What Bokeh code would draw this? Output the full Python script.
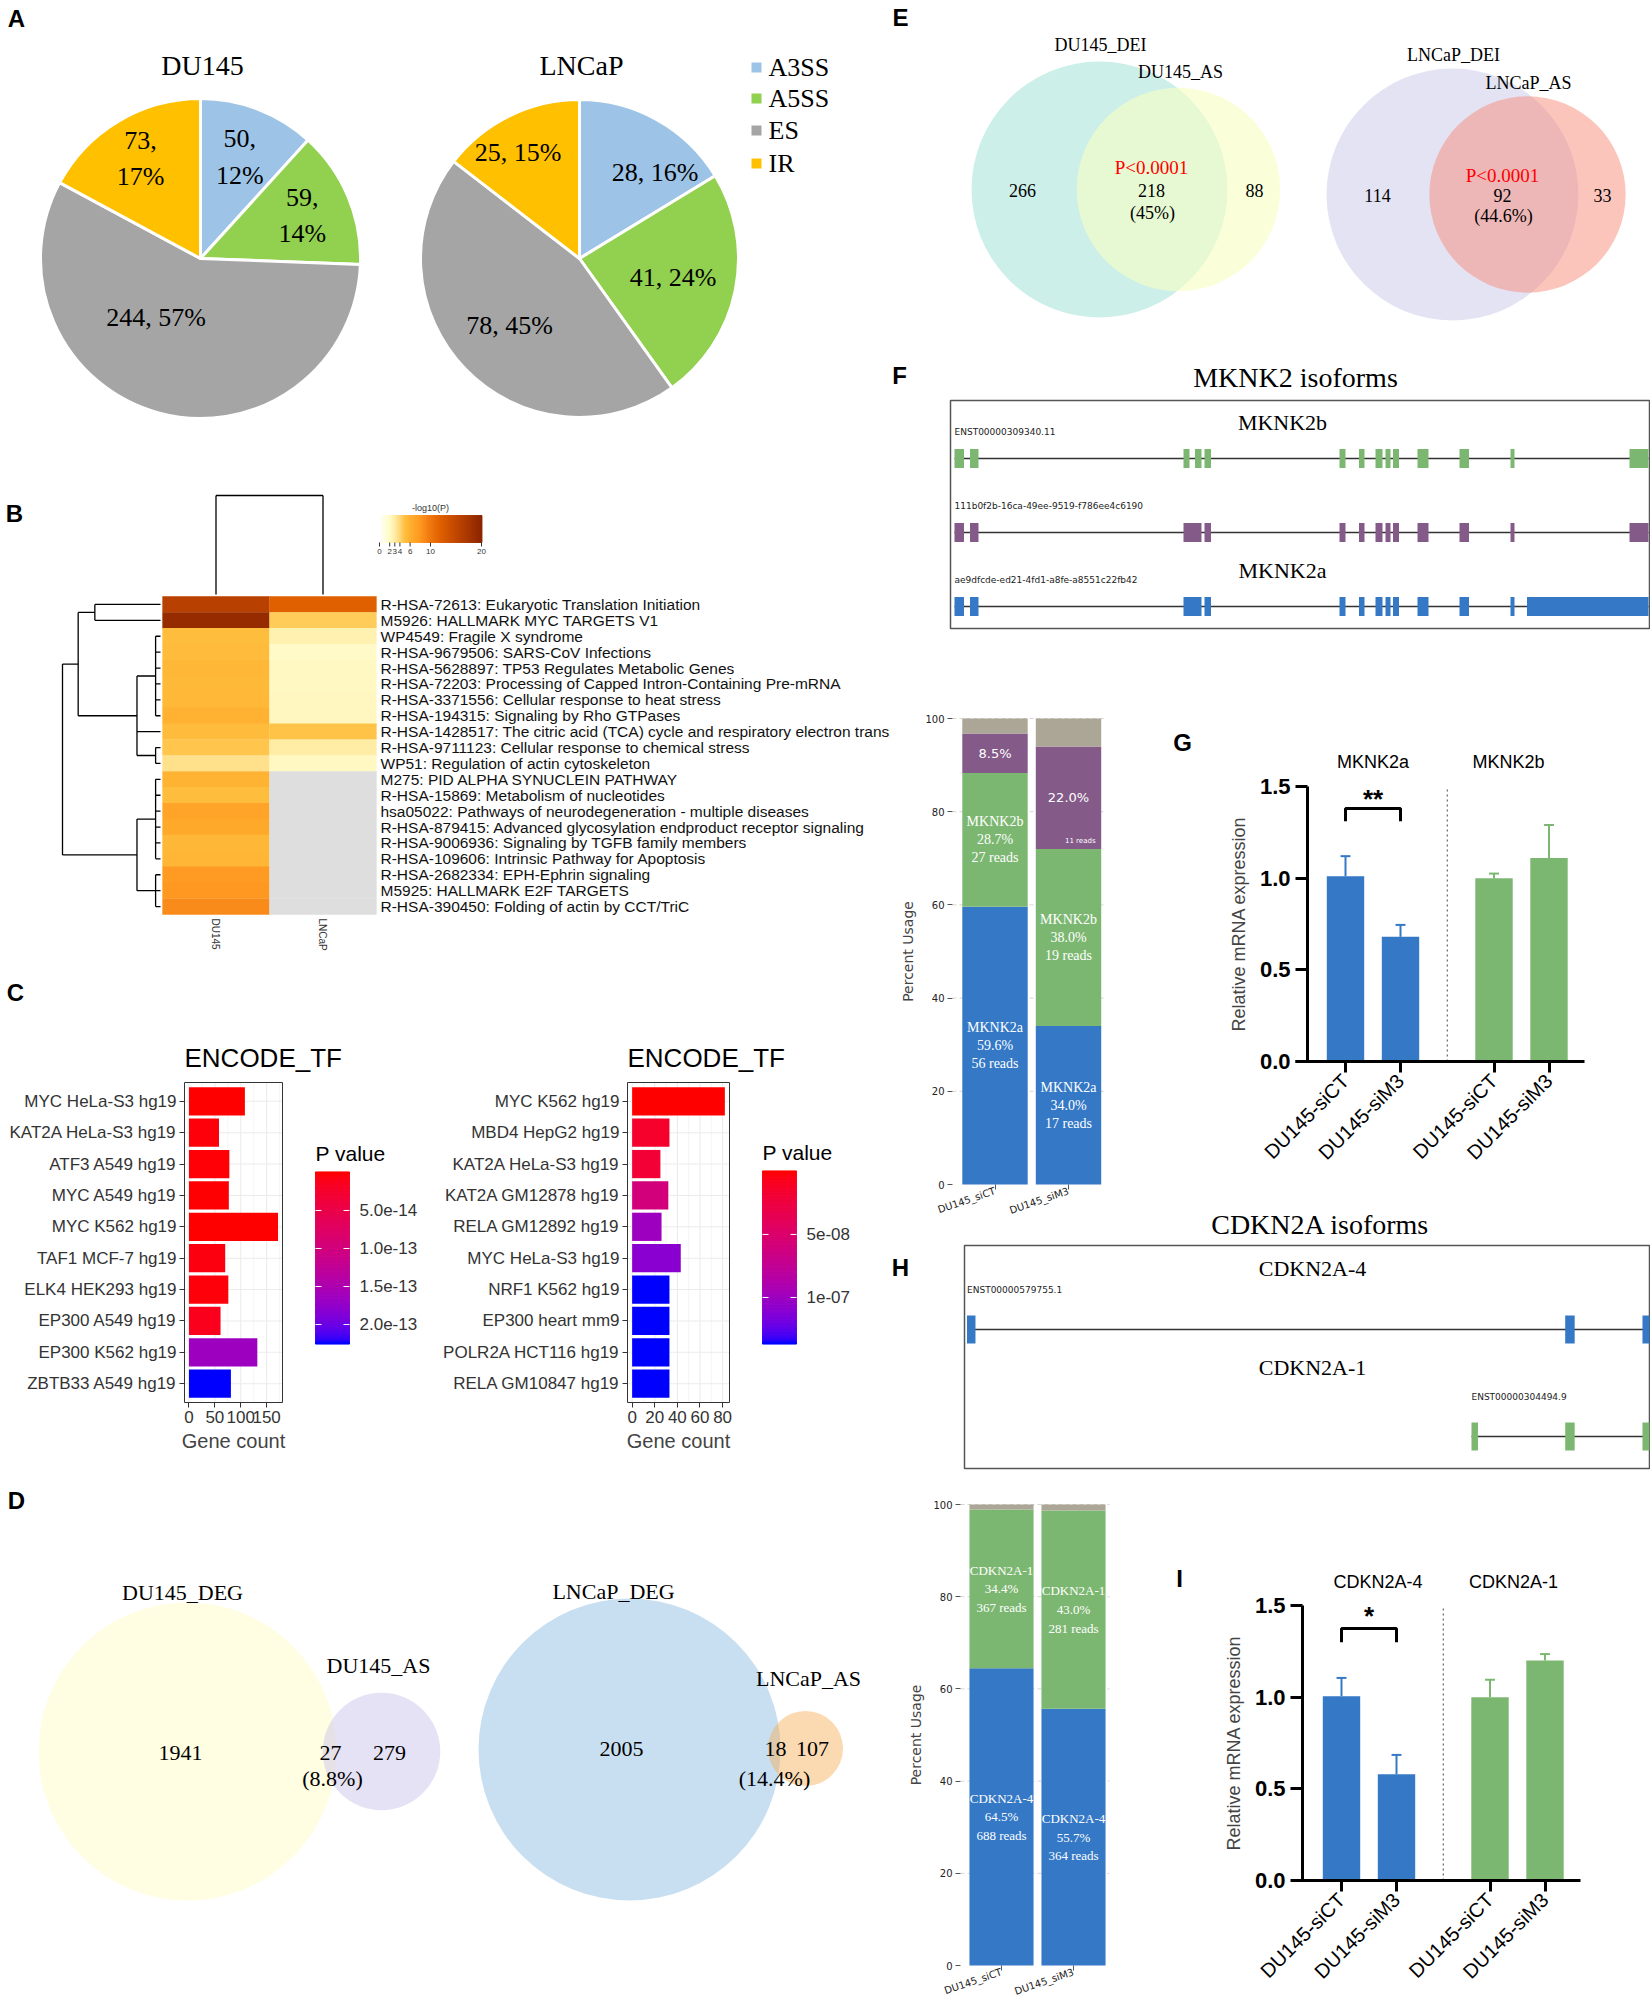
import math
import numpy as np
from bokeh.plotting import figure
from bokeh.models import (Range1d, ColumnDataSource, FixedTicker, NumeralTickFormatter, LinearColorMapper)
from bokeh.layouts import row, column
from bokeh.embed import file_html
from bokeh.resources import INLINE
from bokeh.core.properties import value
from bokeh.transform import linear_cmap

SERIF = "Liberation Serif"
SANS = "Liberation Sans"
DJV = "DejaVu Sans"

# ======================= DATA =======================
# A: alternative splicing event types
pie_types = ["A3SS", "A5SS", "ES", "IR"]
pie_colors = ["#9DC3E6", "#92D050", "#A5A5A5", "#FFC000"]
du145_events = [50, 59, 244, 73]
lncap_events = [28, 41, 78, 25]

# B: enrichment heatmap (-log10 P)
hm_terms = [
    "R-HSA-72613: Eukaryotic Translation Initiation",
    "M5926: HALLMARK MYC TARGETS V1",
    "WP4549: Fragile X syndrome",
    "R-HSA-9679506: SARS-CoV Infections",
    "R-HSA-5628897: TP53 Regulates Metabolic Genes",
    "R-HSA-72203: Processing of Capped Intron-Containing Pre-mRNA",
    "R-HSA-3371556: Cellular response to heat stress",
    "R-HSA-194315: Signaling by Rho GTPases",
    "R-HSA-1428517: The citric acid (TCA) cycle and respiratory electron transport",
    "R-HSA-9711123: Cellular response to chemical stress",
    "WP51: Regulation of actin cytoskeleton",
    "M275: PID ALPHA SYNUCLEIN PATHWAY",
    "R-HSA-15869: Metabolism of nucleotides",
    "hsa05022: Pathways of neurodegeneration - multiple diseases",
    "R-HSA-879415: Advanced glycosylation endproduct receptor signaling",
    "R-HSA-9006936: Signaling by TGFB family members",
    "R-HSA-109606: Intrinsic Pathway for Apoptosis",
    "R-HSA-2682334: EPH-Ephrin signaling",
    "M5925: HALLMARK E2F TARGETS",
    "R-HSA-390450: Folding of actin by CCT/TriC",
]
hm_samples = ["DU145", "LNCaP"]
NA = float("nan")
hm_du145 = [16.0, 19.0, 5.2, 5.3, 5.6, 5.4, 5.5, 6.0, 5.3, 4.8, 3.6,
            5.8, 5.2, 7.0, 6.6, 5.6, 5.7, 7.8, 8.0, 8.8]
hm_lncap = [12.0, 4.6, 2.8, 2.1, 2.2, 2.2, 2.3, 2.3, 4.9, 3.1, 2.2,
            NA, NA, NA, NA, NA, NA, NA, NA, NA]
hm_cbar_ticks = [0, 2, 3, 4, 6, 10, 20]
# dendrograms: [children, height]
n01 = [[0, 1], 0.67]
n27 = [[2, 3, 4, 5, 6, 7], 0.05]
n910 = [[9, 10], 0.05]
n210 = [[n27, 8, n910], 0.24]
ntop = [[n01, n210], 0.84]
n1116 = [[11, 12, 13, 14, 15, 16], 0.05]
n1719 = [[17, 18, 19], 0.05]
nbot = [[n1116, n1719], 0.24]
row_tree = [[ntop, nbot], 1.0]
col_tree = [[0, 1], 1.0]

# C: ENCODE_TF enrichment
c1_tfs = ["MYC HeLa-S3 hg19", "KAT2A HeLa-S3 hg19", "ATF3 A549 hg19", "MYC A549 hg19",
          "MYC K562 hg19", "TAF1 MCF-7 hg19", "ELK4 HEK293 hg19", "EP300 A549 hg19",
          "EP300 K562 hg19", "ZBTB33 A549 hg19"]
c1_counts = [108, 58, 78, 77, 172, 70, 76, 61, 132, 81]
c1_pvals = [1e-16, 4e-15, 2e-15, 1.5e-15, 1e-17, 6e-15, 4e-15, 1.3e-14, 1.65e-13, 2.25e-13]
c1_cb_ticks = [5e-14, 1e-13, 1.5e-13, 2e-13]
c1_cb_labels = ["5.0e-14", "1.0e-13", "1.5e-13", "2.0e-13"]
c2_tfs = ["MYC K562 hg19", "MBD4 HepG2 hg19", "KAT2A HeLa-S3 hg19", "KAT2A GM12878 hg19",
          "RELA GM12892 hg19", "MYC HeLa-S3 hg19", "NRF1 K562 hg19", "EP300 heart mm9",
          "POLR2A HCT116 hg19", "RELA GM10847 hg19"]
c2_counts = [82, 33, 25, 32, 26, 43, 33, 33, 33, 33]
c2_pvals = [1e-10, 1.5e-8, 2e-8, 6e-8, 1.0e-7, 1.1e-7, 1.365e-7, 1.365e-7, 1.365e-7, 1.365e-7]
c2_cb_ticks = [5e-8, 1e-7]
c2_cb_labels = ["5e-08", "1e-07"]

# D: DEG vs AS venn
d_names = [("DU145_DEG", "DU145_AS"), ("LNCaP_DEG", "LNCaP_AS")]
d_only_big = [1941, 2005]
d_shared = [27, 18]
d_only_small = [279, 107]
d_pct = ["(8.8%)", "(14.4%)"]

# E: DEI vs AS venn
e_names = [("DU145_DEI", "DU145_AS"), ("LNCaP_DEI", "LNCaP_AS")]
e_only_big = [266, 114]
e_shared = [218, 92]
e_only_small = [88, 33]
e_pct = ["(45%)", "(44.6%)"]
e_pval = ["P<0.0001", "P<0.0001"]

# F: MKNK2 isoform exons (relative genomic units)
mk_ids = ["ENST00000309340.11", "111b0f2b-16ca-49ee-9519-f786ee4c6190",
          "ae9dfcde-ed21-4fd1-a8fe-a8551c22fb42"]
mk_starts = [[0, 31, 458, 481, 500, 770, 809, 842, 862, 877, 926, 1010, 1112, 1350],
             [0, 31, 458, 500, 770, 809, 842, 862, 877, 926, 1010, 1112, 1350],
             [0, 31, 458, 500, 770, 809, 842, 862, 877, 926, 1010, 1112, 1145]]
mk_ends = [[19, 48, 470, 494, 513, 782, 820, 856, 872, 889, 948, 1029, 1120, 1388],
           [19, 48, 494, 513, 782, 820, 856, 872, 889, 948, 1029, 1120, 1388],
           [19, 48, 494, 513, 782, 820, 856, 872, 889, 948, 1029, 1120, 1388]]
mk_names = ["MKNK2b", None, "MKNK2a"]

# F (bars): MKNK2 isoform usage
iso_samples = ["DU145_siCT", "DU145_siM3"]
mk_a_pct = [59.6, 34.0]
mk_a_reads = [56, 17]
mk_b_pct = [28.7, 38.0]
mk_b_reads = [27, 19]
mk_o_pct = [8.5, 22.0]
mk_o_reads = [8, 11]

# G: qPCR MKNK2
q_labels = ["DU145-siCT", "DU145-siM3", "DU145-siCT", "DU145-siM3"]
g_groups = ["MKNK2a", "MKNK2b"]
g_means = [1.01, 0.68, 1.00, 1.11]
g_err = [0.11, 0.065, 0.025, 0.18]

# H: CDKN2A isoform exons
cd_title = "CDKN2A isoforms"
cd_ids = ["ENST00000579755.1", "ENST00000304494.9"]
cd_names = ["CDKN2A-4", "CDKN2A-1"]
cd_starts = [[0, 1200, 1355], [1012, 1200, 1355]]
cd_ends = [[17, 1219, 1369], [1025, 1219, 1369]]

# H (bars): CDKN2A isoform usage
cd_4_pct = [64.5, 55.7]
cd_4_reads = [688, 364]
cd_1_pct = [34.4, 43.0]
cd_1_reads = [367, 281]

# I: qPCR CDKN2A
i_groups = ["CDKN2A-4", "CDKN2A-1"]
i_means = [1.005, 0.58, 1.00, 1.20]
i_err = [0.10, 0.105, 0.095, 0.035]

# ======================= STYLE / HELPERS =======================
BLUE = "#3478C6"
GREEN = "#7CB771"
PURPLE = "#845A88"
GRAYSEG = "#ABA696"


def hex2rgb(h):
    return np.array([int(h[i:i + 2], 16) for i in (1, 3, 5)], float)


def rgb2hex(c):
    c = np.clip(np.round(c), 0, 255).astype(int)
    return "#%02x%02x%02x" % tuple(c)


_M = np.array([[0.4124, 0.3576, 0.1805], [0.2126, 0.7152, 0.0722], [0.0193, 0.1192, 0.9505]])
_WP = np.array([0.95047, 1.0, 1.08883])


def srgb2lab(rgb):
    c = rgb / 255.0
    c = np.where(c <= 0.04045, c / 12.92, ((c + 0.055) / 1.055) ** 2.4)
    t = (_M @ c) / _WP
    f = np.where(t > 0.008856, np.cbrt(t), 7.787 * t + 16 / 116)
    return np.array([116 * f[1] - 16, 500 * (f[0] - f[1]), 200 * (f[1] - f[2])])


def lab2srgb(lab):
    L, a, b = lab
    fy = (L + 16) / 116
    f = np.array([fy + a / 500, fy, fy - b / 200])
    t = np.where(f ** 3 > 0.008856, f ** 3, (f - 16 / 116) / 7.787) * _WP
    lin_ = np.clip(np.linalg.solve(_M, t), 0, None)
    s = np.where(lin_ <= 0.0031308, 12.92 * lin_, 1.055 * lin_ ** (1 / 2.4) - 0.055)
    return s * 255


_lr, _lb = srgb2lab(hex2rgb("#FF0000")), srgb2lab(hex2rgb("#0000FF"))
RB_PAL = [rgb2hex(lab2srgb(_lr * (1 - t) + _lb * t)) for t in np.linspace(0, 1, 256)]

_hm_stops = [(0, "#FFFFFF"), (2, "#FFFBC8"), (3, "#FFEEA8"), (4, "#FFD878"), (5, "#FFC040"),
             (6, "#FFB030"), (8, "#FF9820"), (10, "#F07810"), (12, "#E06000"),
             (16, "#B84000"), (20, "#8B2500")]
_sv = np.array([s[0] for s in _hm_stops], float)
_sc = np.array([hex2rgb(s[1]) for s in _hm_stops])
HM_PAL = [rgb2hex([np.interp(v, _sv, _sc[:, k]) for k in range(3)]) for v in np.linspace(0, 20, 256)]


def lin(p0, p1, da, pa, db, pb):
    s = (db - da) / float(pb - pa)
    return da + (p0 - pa) * s, da + (p1 - pa) * s


def canvas(X0, Y0, X1, Y1, xmap=None, ymap=None, axes=False):
    """Figure whose frame is the whole canvas; data ranges chosen so that the
    data<->pixel correspondences in xmap / ymap hold."""
    xr = Range1d(X0, X1) if xmap is None else Range1d(*lin(X0, X1, *xmap))
    yr = Range1d(-Y1, -Y0) if ymap is None else Range1d(*lin(Y1, Y0, *ymap))
    kw = {} if axes else dict(x_axis_location=None, y_axis_location=None)
    p = figure(width=X1 - X0, height=Y1 - Y0, x_range=xr, y_range=yr, output_backend="svg",
               toolbar_location=None, min_border=0, **kw)
    p.extra_x_ranges = {"px": Range1d(X0, X1)}
    p.extra_y_ranges = {"py": Range1d(-Y1, -Y0)}
    p.grid.visible = False
    p.outline_line_color = None
    return p


def put_text(p, xs, ys, texts, size, font=SERIF, color="black", align="center",
             baseline="middle", style="normal", angle=0.0, lh=1.2, xn="px", yn="py"):
    yy = [-v for v in ys] if yn == "py" else list(ys)
    src = ColumnDataSource(dict(x=list(xs), y=yy, t=list(texts)))
    p.text(x="x", y="y", text="t", source=src, text_font=value(font), text_font_size=f"{size}px",
           text_color=color, text_align=align, text_baseline=baseline, text_font_style=style,
           angle=angle, text_line_height=lh, x_range_name=xn, y_range_name=yn)


def letter(p, x, y, L):
    put_text(p, [x], [y], [L], 24, SANS, style="bold")


def dendro(node, leafpos, segs):
    if isinstance(node, int):
        return leafpos[node], 0.0
    kids, h = node
    res = [dendro(k, leafpos, segs) for k in kids]
    for pc, hc in res:
        segs.append((pc, hc, pc, h))
    ps = [r[0] for r in res]
    segs.append((min(ps), h, max(ps), h))
    return (min(ps) + max(ps)) / 2.0, h


# ======================= PANEL A =======================
pA = canvas(0, 0, 890, 440)
letter(pA, 16, 18, "A")
pies = [("DU145", du145_events, (200, 258), 160, ["\n", "\n", " ", "\n"],
         [0.68, 0.69, 0.46, 0.73], [0, 0, 22, 0]),
        ("LNCaP", lncap_events, (579, 258), 159, [" ", " ", " ", " "],
         [0.72, 0.60, 0.61, 0.77], [12, 0, 0, -4])]
for title, counts, (cx, cy), r, seps, dists, shifts in pies:
    tot = float(sum(counts))
    cum = np.concatenate([[0.0], np.cumsum(np.array(counts) / tot)]) * 2 * np.pi
    th0, th1 = cum[:-1], cum[1:]
    pA.wedge(x=cx, y=-cy, radius=r, start_angle=list(np.pi / 2 - th1), end_angle=list(np.pi / 2 - th0),
             fill_color=pie_colors, line_color="white", line_width=3)
    lx, ly, lt = [], [], []
    for i, c in enumerate(counts):
        mid = (th0[i] + th1[i]) / 2 + math.radians(shifts[i])
        lx.append(cx + dists[i] * r * math.sin(mid))
        ly.append(cy - dists[i] * r * math.cos(mid))
        lt.append(f"{c},{seps[i]}{round(100 * c / tot)}%")
    put_text(pA, lx, ly, lt, 26, lh=1.25)
    put_text(pA, [cx + 2], [65], [title], 28)
leg_y = [67, 98, 130, 163]
pA.rect(x=[756] * 4, y=[-v for v in leg_y], width=10, height=10, fill_color=pie_colors, line_color=None)
put_text(pA, [768] * 4, leg_y, pie_types, 26, align="left")

# ======================= PANEL B =======================
pB = canvas(0, 440, 890, 960)
letter(pB, 14, 513, "B")
hx0, hx1, hy0, hy1 = 162, 376, 596, 914
nrow = len(hm_terms)
cw = (hx1 - hx0) / 2.0
rh = (hy1 - hy0) / float(nrow)
row_c = [hy0 + (i + 0.5) * rh for i in range(nrow)]
col_c = [hx0 + (j + 0.5) * cw for j in range(2)]
cx_, cy_, cv_ = [], [], []
for j, colv in enumerate([hm_du145, hm_lncap]):
    for i, v in enumerate(colv):
        cx_.append(col_c[j]); cy_.append(-row_c[i]); cv_.append(v)
srcB = ColumnDataSource(dict(x=cx_, y=cy_, v=np.array(cv_, dtype=float)))
pB.rect(x="x", y="y", width=cw + 0.3, height=rh + 0.4, source=srcB, line_color=None,
        fill_color=linear_cmap("v", HM_PAL, 0, 20, nan_color="#DEDEDE"))
put_text(pB, [380] * nrow, row_c, hm_terms, 15.5, SANS, color="#111111", align="left")
put_text(pB, [c - 1 for c in col_c], [918, 918], hm_samples, 10, SANS, color="#333333",
         align="left", angle=-math.pi / 2)
segs = []
dendro(row_tree, row_c, segs)
base, sc = 160.0, 98.0
pB.segment(x0=[base - s[1] * sc for s in segs], y0=[-s[0] for s in segs],
           x1=[base - s[3] * sc for s in segs], y1=[-s[2] for s in segs], line_color="black", line_width=1.3)
segs = []
dendro(col_tree, col_c, segs)
base, sc = 594.0, 99.0
pB.segment(x0=[s[0] for s in segs], y0=[-(base - s[1] * sc) for s in segs],
           x1=[s[2] for s in segs], y1=[-(base - s[3] * sc) for s in segs], line_color="black", line_width=1.3)
kx0, kx1, ky0, ky1 = 379, 481, 515, 542
kv = np.linspace(0, 20, 120)
kcols = [HM_PAL[int(v / 20 * 255)] for v in kv]
pB.rect(x=list(kx0 + (kv / 20) * (kx1 - kx0)), y=-(ky0 + ky1) / 2, width=(kx1 - kx0) / 119,
        height=ky1 - ky0, fill_color=kcols, line_color=kcols, line_width=1)
tk = [kx0 + t / 20 * (kx1 - kx0) for t in hm_cbar_ticks]
pB.segment(x0=tk, y0=[-ky1] * len(tk), x1=tk, y1=[-(ky1 + 4)] * len(tk), line_color="#333333", line_width=1)
put_text(pB, tk, [551] * len(tk), [str(t) for t in hm_cbar_ticks], 8, SANS, color="#333333")
put_text(pB, [(kx0 + kx1) / 2], [507], ["-log10(P)"], 9, SANS, color="#333333")


# ======================= PANEL C =======================
def tf_canvas(X0, X1, names, counts, pvals, panel_px, cb_px, cb_py, cb_title_y, xticks,
              cb_ticks, cb_labels):
    Y0, Y1 = 960, 1470
    n = len(names)
    mx = max(counts)
    xl, xh = -0.05 * mx, 1.05 * mx
    ylo, yhi = 0.4, n + 0.6
    p = canvas(X0, Y0, X1, Y1, xmap=(xl, panel_px[0], xh, panel_px[1]),
               ymap=(ylo, 1402, yhi, 1082), axes=True)
    ypos = list(range(n, 0, -1))
    step = xticks[1] - xticks[0]
    minors = [t + step / 2.0 for t in xticks if t + step / 2.0 < xh]
    p.segment(x0=minors, x1=minors, y0=ylo, y1=yhi, line_color="#F2F2F2", line_width=0.8)
    p.segment(x0=xticks, x1=xticks, y0=ylo, y1=yhi, line_color="#EBEBEB", line_width=1.1)
    p.segment(x0=xl, x1=xh, y0=ypos, y1=ypos, line_color="#EBEBEB", line_width=1.1)
    vmin, vmax = min(pvals), max(pvals)
    mapper = LinearColorMapper(palette=RB_PAL, low=vmin, high=vmax)
    src = ColumnDataSource(dict(y=ypos, c=counts, p=pvals))
    p.hbar(y="y", left=0, right="c", height=0.9, source=src, line_color=None,
           fill_color={"field": "p", "transform": mapper})
    p.quad(left=xl, right=xh, bottom=ylo, top=yhi, fill_color=None, line_color="#333333", line_width=1)
    p.yaxis.fixed_location = xl
    p.yaxis.bounds = (ylo, yhi)
    p.xaxis.fixed_location = ylo
    p.xaxis.bounds = (xl, xh)
    p.xaxis.ticker = FixedTicker(ticks=xticks)
    p.yaxis.ticker = FixedTicker(ticks=ypos)
    p.yaxis.major_label_overrides = {y: nm for y, nm in zip(ypos, names)}
    for ax in (p.xaxis, p.yaxis):
        ax.axis_line_color = None
        ax.major_tick_out = 5
        ax.major_tick_in = 0
        ax.major_tick_line_color = "#333333"
        ax.minor_tick_line_color = None
        ax.major_label_text_font = SANS
        ax.major_label_text_font_size = "17px"
        ax.major_label_text_color = "#333333"
        ax.major_label_standoff = 3
    p.xaxis.axis_label = "Gene count"
    p.xaxis.axis_label_text_font = SANS
    p.xaxis.axis_label_text_font_size = "20px"
    p.xaxis.axis_label_text_font_style = "normal"
    p.xaxis.axis_label_standoff = 4
    put_text(p, [panel_px[0]], [1057], ["ENCODE_TF"], 26, SANS, align="left")
    # colour bar (own scale for P values)
    pv0, pv1 = lin(Y1, Y0, vmin, cb_py[0], vmax, cb_py[1])
    p.extra_y_ranges = {"py": Range1d(-Y1, -Y0), "pv": Range1d(pv0, pv1)}
    vs = np.linspace(vmin, vmax, 150)
    cmap = {"field": "v", "transform": mapper}
    p.rect(x=(cb_px[0] + cb_px[1]) / 2.0, y="v", width=cb_px[1] - cb_px[0], height=(vmax - vmin) / 149,
           source=ColumnDataSource(dict(v=vs)), fill_color=cmap, line_color=cmap, line_width=1,
           x_range_name="px", y_range_name="pv")
    nt = len(cb_ticks)
    p.segment(x0=[cb_px[0]] * nt, x1=[cb_px[0] + 6] * nt, y0=cb_ticks, y1=cb_ticks, line_color="white",
              line_width=1, x_range_name="px", y_range_name="pv")
    p.segment(x0=[cb_px[1] - 6] * nt, x1=[cb_px[1]] * nt, y0=cb_ticks, y1=cb_ticks, line_color="white",
              line_width=1, x_range_name="px", y_range_name="pv")
    put_text(p, [cb_px[1] + 10] * nt, cb_ticks, cb_labels, 17, SANS, color="#333333", align="left", yn="pv")
    put_text(p, [cb_px[0]], [cb_title_y], ["P value"], 21, SANS, align="left")
    return p


c1 = tf_canvas(0, 425, c1_tfs, c1_counts, c1_pvals, (184, 282), (315, 349), (1172, 1343), 1153,
               [0, 50, 100, 150], c1_cb_ticks, c1_cb_labels)
letter(c1, 15, 992, "C")
c2 = tf_canvas(425, 890, c2_tfs, c2_counts, c2_pvals, (627, 729), (762, 796), (1171, 1343), 1152,
               [0, 20, 40, 60, 80], c2_cb_ticks, c2_cb_labels)

# ======================= PANEL D =======================
pD = canvas(0, 1470, 890, 2000)
letter(pD, 16, 1500, "D")
d_big_c = [(187, 1751), (629, 1749)]
d_small_c = [(381, 1751), (805, 1748)]
d_big_r = [149, 151]
d_fill = [("#FFFDE2", "#CBC5EC", 0.5), ("#C8DFF2", "#F9AC52", 0.45)]
d_name_xy = [((182, 1592), (378, 1665)), ((613, 1591), (808, 1678))]
d_num_xy = [((180, 1752), (330, 1752), (389, 1752), (332, 1778)),
            ((621, 1748), (775, 1748), (812, 1748), (774, 1778))]
for k in range(2):
    nb = d_only_big[k] + d_shared[k]
    ns = d_only_small[k] + d_shared[k]
    rb = d_big_r[k]
    rs = rb * math.sqrt(ns / nb)
    cb_, cs_ = d_big_c[k], d_small_c[k]
    pD.circle(x=[cb_[0]], y=[-cb_[1]], radius=rb, fill_color=d_fill[k][0], line_color=None)
    pD.circle(x=[cs_[0]], y=[-cs_[1]], radius=rs, fill_color=d_fill[k][1], fill_alpha=d_fill[k][2],
              line_color=None)
    (n1, n2) = d_name_xy[k]
    put_text(pD, [n1[0], n2[0]], [n1[1], n2[1]], list(d_names[k]), 22)
    pts = d_num_xy[k]
    put_text(pD, [q[0] for q in pts], [q[1] for q in pts],
             [str(d_only_big[k]), str(d_shared[k]), str(d_only_small[k]), d_pct[k]], 22)

# ======================= PANEL E =======================
pE = canvas(890, 0, 1650, 340)
letter(pE, 900, 17, "E")
e_big_c = [(1099, 189), (1452, 194)]
e_small_c = [(1178, 189), (1527, 194)]
e_big_r = [128, 126]
e_fill = [("#CDEFEA", "#F7FFC3", 0.62), ("#E3E3F4", "#F98B79", 0.5)]
e_name_xy = [((1100, 44), (1180, 71)), ((1453, 54), (1528, 82))]
e_num_xy = [((1022, 190), (1151, 190), (1254, 190), (1152, 212), (1151, 167)),
            ((1377, 195), (1502, 195), (1602, 195), (1503, 215), (1502, 175))]
for k in range(2):
    nb = e_only_big[k] + e_shared[k]
    ns = e_only_small[k] + e_shared[k]
    rb = e_big_r[k]
    rs = rb * math.sqrt(ns / nb)
    cb_, cs_ = e_big_c[k], e_small_c[k]
    pE.circle(x=[cb_[0]], y=[-cb_[1]], radius=rb, fill_color=e_fill[k][0], line_color=None)
    pE.circle(x=[cs_[0]], y=[-cs_[1]], radius=rs, fill_color=e_fill[k][1], fill_alpha=e_fill[k][2],
              line_color=None)
    (n1, n2) = e_name_xy[k]
    put_text(pE, [n1[0], n2[0]], [n1[1], n2[1]], list(e_names[k]), 18)
    pts = e_num_xy[k]
    put_text(pE, [q[0] for q in pts[:4]], [q[1] for q in pts[:4]],
             [str(e_only_big[k]), str(e_shared[k]), str(e_only_small[k]), e_pct[k]], 18)
    put_text(pE, [pts[4][0]], [pts[4][1]], [e_pval[k]], 19, color="#FF0000")

# ======================= PANEL F (isoforms) =======================
pF = canvas(890, 340, 1650, 640)
letter(pF, 899, 375, "F")
sF = 0.5
pF.extra_x_ranges = {"px": Range1d(890, 1650), "g": Range1d((890 - 954) / sF, (1650 - 954) / sF)}
pF.quad(left=950, right=1649, top=-400, bottom=-628, fill_color=None, line_color="#555555", line_width=1.5)
put_text(pF, [1295], [377], ["MKNK2 isoforms"], 28)
mk_y = [458, 532, 606]
mk_cols = [GREEN, PURPLE, BLUE]
for t in range(3):
    ty = mk_y[t]
    pF.segment(x0=[min(mk_starts[t])], x1=[max(mk_ends[t])], y0=[-ty], y1=[-ty], x_range_name="g",
               line_color="#333333", line_width=1.5)
    pF.quad(left=mk_starts[t], right=mk_ends[t], bottom=-ty - 9.5, top=-ty + 9.5, x_range_name="g",
            fill_color=mk_cols[t], line_color=None)
    put_text(pF, [mk_starts[t][0]], [ty - 27], [mk_ids[t]], 9, DJV, color="#222222", align="left", xn="g")
    if mk_names[t]:
        put_text(pF, [1282], [ty - 36], [mk_names[t]], 22)


# ======================= stacked usage bars =======================
def stack_canvas(X0, Y0, X1, Y1, samples, layers, c0_px, c1_px, ybot_px, ytop_px, yaxis_px, fsize, lh):
    n = len(samples)
    xs = list(range(n))
    p = canvas(X0, Y0, X1, Y1, xmap=(0, c0_px, 1, c1_px), ymap=(0, ybot_px, 100, ytop_px), axes=True)
    ax_x = lin(yaxis_px, yaxis_px, 0, c0_px, 1, c1_px)[0]
    gy = [20, 40, 60, 80, 100]
    p.segment(x0=ax_x, x1=n - 0.5, y0=gy, y1=gy, line_color="#D5D5D5", line_dash="4 3", line_width=1)
    base = np.zeros(n)
    for name, vals, reads, color, kind in layers:
        vals = np.array(vals, float)
        p.vbar(x=xs, bottom=list(base), top=list(base + vals), width=0.89, fill_color=color, line_color=None)
        mids = base + vals / 2
        if kind == "full":
            tx = [f"{name}\n{v:.1f}%\n{r} reads" for v, r in zip(vals, reads)]
            p.text(x=xs, y=list(mids), text=tx, text_font=value(SERIF), text_font_size=f"{fsize}px",
                   text_color="white", text_align="center", text_baseline="middle", text_line_height=lh)
        elif kind == "pct":
            p.text(x=xs, y=list(mids), text=[f"{v:.1f}%" for v in vals], text_font=value(DJV),
                   text_font_size="13px", text_color="white", text_align="center", text_baseline="middle")
            big = [i for i in range(n) if vals[i] >= 15]
            p.text(x=[xs[i] + 0.16 for i in big], y=[base[i] + 1.8 for i in big],
                   text=[f"{reads[i]} reads" for i in big], text_font=value(DJV), text_font_size="7px",
                   text_color="white", text_align="center", text_baseline="middle")
        base = base + vals
    p.vbar(x=xs, bottom=list(base), top=[100] * n, width=0.89, fill_color=GRAYSEG, line_color=None)
    p.yaxis.fixed_location = ax_x
    p.yaxis.bounds = (0, 100)
    p.xaxis.fixed_location = 0
    p.yaxis.ticker = FixedTicker(ticks=[0, 20, 40, 60, 80, 100])
    p.xaxis.ticker = FixedTicker(ticks=xs)
    p.xaxis.major_label_overrides = {x: s for x, s in zip(xs, samples)}
    p.xaxis.major_label_orientation = 0.33
    for ax in (p.xaxis, p.yaxis):
        ax.axis_line_color = None
        ax.major_tick_out = 5
        ax.major_tick_in = 0
        ax.major_tick_line_color = "#555555"
        ax.minor_tick_line_color = None
        ax.major_label_text_font = DJV
        ax.major_label_text_font_size = "10px"
        ax.major_label_text_color = "#222222"
        ax.major_label_standoff = 3
    p.xaxis.major_label_standoff = 1
    p.yaxis.axis_label = "Percent Usage"
    p.yaxis.axis_label_text_font = DJV
    p.yaxis.axis_label_text_font_size = "14px"
    p.yaxis.axis_label_text_font_style = "normal"
    p.yaxis.axis_label_standoff = 6
    return p


YGH = 1242  # boundary between the F/G row and panel H
fb = stack_canvas(890, 640, 1170, YGH, iso_samples,
                  [("MKNK2a", mk_a_pct, mk_a_reads, BLUE, "full"),
                   ("MKNK2b", mk_b_pct, mk_b_reads, GREEN, "full"),
                   ("other", mk_o_pct, mk_o_reads, PURPLE, "pct")],
                  994.5, 1068, 1184, 718, 952, 14, 1.2)

hb = stack_canvas(890, 1470, 1170, 2000, iso_samples,
                  [("CDKN2A-4", cd_4_pct, cd_4_reads, BLUE, "full"),
                   ("CDKN2A-1", cd_1_pct, cd_1_reads, GREEN, "full")],
                  1001, 1073, 1965, 1504, 960, 13, 1.25)


# ======================= qPCR bars =======================
def qpcr_canvas(X0, Y0, X1, Y1, bar1_px, y0_px, y15_px, yaxis_px, xaxis_px, groups, labels, means,
                errs, sig, sig_y, br_y, br_low, head_y, head_dx, let, let_xy):
    pos = [10, 20, 37, 47]
    cols = [BLUE, BLUE, GREEN, GREEN]
    xmap = (10, bar1_px, 20, bar1_px + 55.0)
    p = canvas(X0, Y0, X1, Y1, xmap=xmap, ymap=(0, y0_px, 1.5, y15_px), axes=True)
    p.vbar(x=pos, bottom=0, top=means, width=6.8, fill_color=cols, line_color=None)
    tops = [m + e for m, e in zip(means, errs)]
    p.segment(x0=pos, y0=means, x1=pos, y1=tops, line_color=cols, line_width=2)
    p.segment(x0=[x - 0.9 for x in pos], y0=tops, x1=[x + 0.9 for x in pos], y1=tops,
              line_color=cols, line_width=2)
    sep = (pos[1] + pos[2]) / 2.0
    p.segment(x0=[sep], y0=[0], x1=[sep], y1=[1.5], line_color="#444444", line_width=1, line_dash="2 3")
    p.line(x=[pos[0], pos[0], pos[1], pos[1]], y=[br_low, br_y, br_y, br_low], line_color="black", line_width=3)
    put_text(p, [(pos[0] + pos[1]) / 2.0], [sig_y], [sig], 26, SANS, style="bold", xn="default", yn="default")
    gx = [(pos[2 * i] + pos[2 * i + 1]) / 2.0 + head_dx[i] / 5.5 for i in range(len(groups))]
    put_text(p, gx, [head_y] * len(groups), groups, 18, SANS, xn="default")
    letter(p, let_xy[0], let_xy[1], let)
    ax_x = lin(yaxis_px, yaxis_px, *xmap)[0]
    xb = lin(xaxis_px[0], xaxis_px[1], *xmap)
    p.yaxis.fixed_location = ax_x
    p.yaxis.bounds = (0, 1.5)
    p.xaxis.fixed_location = 0
    p.xaxis.bounds = xb
    p.xaxis.ticker = FixedTicker(ticks=pos)
    p.xaxis.major_label_overrides = {x: l for x, l in zip(pos, labels)}
    p.xaxis.major_label_orientation = math.pi / 4
    p.xaxis.major_label_text_font_size = "20px"
    p.xaxis.major_tick_out = 11
    p.yaxis.ticker = FixedTicker(ticks=[0, 0.5, 1.0, 1.5])
    p.yaxis.formatter = NumeralTickFormatter(format="0.0")
    p.yaxis.major_label_text_font_size = "22px"
    p.yaxis.major_label_text_font_style = "bold"
    p.yaxis.major_tick_out = 12
    for ax in (p.xaxis, p.yaxis):
        ax.axis_line_width = 3
        ax.axis_line_color = "black"
        ax.major_tick_line_width = 3
        ax.major_tick_line_color = "black"
        ax.major_tick_in = 0
        ax.minor_tick_line_color = None
        ax.major_label_text_font = SANS
        ax.major_label_text_color = "black"
    p.yaxis.axis_label = "Relative mRNA expression"
    p.yaxis.axis_label_text_font = SANS
    p.yaxis.axis_label_text_font_size = "18px"
    p.yaxis.axis_label_text_font_style = "normal"
    p.yaxis.axis_label_standoff = 8
    return p


g = qpcr_canvas(1170, 640, 1650, YGH, 1345, 1061, 786, 1307, (1295, 1584), g_groups, q_labels,
                g_means, g_err, "**", 1.43, 1.38, 1.31, 761, [0, -13], "G", (1182, 742))
# title of panel H sits in the lower strip of this canvas
put_text(g, [1320], [1224], [cd_title], 28)
qi = qpcr_canvas(1170, 1470, 1650, 2000, 1341, 1880, 1605, 1302, (1292, 1580), i_groups, q_labels,
                 i_means, i_err, "*", 1.445, 1.375, 1.30, 1581, [9, -4], "I", (1179, 1578))

# ======================= PANEL H (isoforms) =======================
pH = canvas(890, YGH, 1650, 1470)
letter(pH, 900, 1267, "H")
sH = 0.4985
pH.extra_x_ranges = {"px": Range1d(890, 1650), "g": Range1d((890 - 966.5) / sH, (1650 - 966.5) / sH)}
pH.quad(left=964, right=1649, top=-1245, bottom=-1468, fill_color=None, line_color="#555555", line_width=1.5)
cd_y = [1329, 1436]
cd_cols = [BLUE, GREEN]
cd_name_y = [1268, 1367]
for t in range(2):
    ty = cd_y[t]
    pH.segment(x0=[min(cd_starts[t])], x1=[max(cd_ends[t])], y0=[-ty], y1=[-ty], x_range_name="g",
               line_color="#333333", line_width=1.5)
    pH.quad(left=cd_starts[t], right=cd_ends[t], bottom=-ty - 14, top=-ty + 14, x_range_name="g",
            fill_color=cd_cols[t], line_color=None)
    put_text(pH, [cd_starts[t][0]], [ty - 40], [cd_ids[t]], 9, DJV, color="#222222", align="left", xn="g")
    put_text(pH, [1312], [cd_name_y[t]], [cd_names[t]], 22)

# ======================= LAYOUT =======================
left_col = column(pA, pB, row(c1, c2), pD)
right_col = column(pE, pF, row(fb, g), pH, row(hb, qi))
layout = row(left_col, right_col)

open("out.html", "w").write(file_html(layout, INLINE, "figure"))
